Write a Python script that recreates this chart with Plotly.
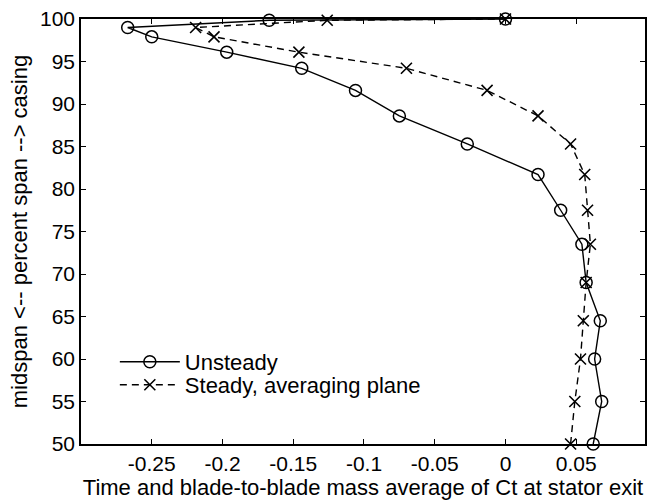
import plotly.graph_objects as go

# Radial stations (percent span, midspan -> casing)
span = [50, 55, 60, 64.5, 69, 73.5, 77.5, 81.7, 85.3, 88.6, 91.6, 94.2, 96.1, 97.9, 99.0, 99.85, 100]

# Mass-averaged Ct at stator exit
ct_unsteady = [0.062, 0.068, 0.063, 0.067, 0.057, 0.054, 0.039, 0.023, -0.027, -0.075,
               -0.106, -0.144, -0.197, -0.250, -0.267, -0.167, 0.0]
ct_steady = [0.046, 0.049, 0.053, 0.055, 0.057, 0.060, 0.058, 0.056, 0.046, 0.023,
             -0.013, -0.070, -0.146, -0.206, -0.219, -0.126, 0.0]

x_tickvals = [-0.25, -0.2, -0.15, -0.1, -0.05, 0, 0.05]
x_ticktext = ["-0.25", "-0.2", "-0.15", "-0.1", "-0.05", "0", "0.05"]
y_tickvals = [50, 55, 60, 65, 70, 75, 80, 85, 90, 95, 100]

FONT = "Liberation Sans, Arial, Helvetica, sans-serif"

fig = go.Figure()
fig.add_trace(go.Scatter(
    x=ct_unsteady, y=span, mode="lines+markers", name="Unsteady",
    line=dict(color="black", width=1.4),
    marker=dict(symbol="circle-open", size=12, color="black", line=dict(width=1.5)),
    cliponaxis=False, legend="legend",
))
fig.add_trace(go.Scatter(
    x=ct_steady, y=span, mode="lines+markers", name="Steady, averaging plane",
    line=dict(color="black", width=1.4, dash="7px,5px"),
    marker=dict(symbol="x-thin-open", size=11, color="black", line=dict(width=1.6)),
    cliponaxis=False, legend="legend2",
))

axis_common = dict(
    showline=True, linecolor="black", linewidth=1.5, mirror="ticks",
    ticks="inside", ticklen=5, tickwidth=1, tickcolor="black",
    showgrid=False, zeroline=False,
    tickfont=dict(family=FONT, size=21, color="black"),
)

legend_common = dict(xanchor="left", yanchor="middle", bgcolor="rgba(0,0,0,0)",
                     borderwidth=0, itemwidth=60, font=dict(family=FONT, size=22))

fig.update_layout(
    width=652, height=501,
    margin=dict(l=81, r=5, t=19, b=57),
    paper_bgcolor="white", plot_bgcolor="white",
    font=dict(family=FONT, size=21, color="black"),
    xaxis=dict(
        range=[-0.3, 0.0986], tickvals=x_tickvals, ticktext=x_ticktext,
        title=dict(text="Time and blade-to-blade mass average of Ct at stator exit",
                   font=dict(family=FONT, size=22), standoff=5),
        **axis_common,
    ),
    yaxis=dict(
        range=[50, 100], tickvals=y_tickvals,
        title=dict(text="midspan <-- percent span --> casing",
                   font=dict(family=FONT, size=22), standoff=6),
        **axis_common,
    ),
    legend=dict(x=0.060, y=0.193, **legend_common),
    legend2=dict(x=0.060, y=0.139, **legend_common),
    showlegend=True,
)

fig.write_html("out.html")
